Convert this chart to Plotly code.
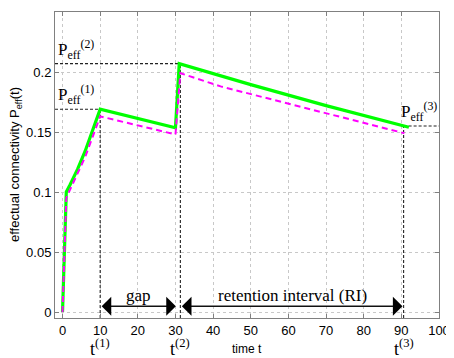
import plotly.graph_objects as go

# ---- data ----
green_t = [0, 1, 2, 4, 6, 8, 10, 30, 31, 50, 70, 92]
green_p = [0, 0.1, 0.106, 0.119, 0.134, 0.151, 0.169, 0.1535, 0.207, 0.1895, 0.172, 0.154]
magenta_t = [0, 1, 2, 4, 6, 8, 10, 30, 31.3, 42, 90.8]
magenta_p = [0, 0.095, 0.102, 0.115, 0.129, 0.146, 0.163, 0.148, 0.199, 0.188, 0.149]

event_t = [10, 31.3, 90.6]           # t(1), t(2), t(3)
peff = [0.169, 0.207, 0.155]         # Peff(1), Peff(2), Peff(3)
x_min, x_max = -2, 100
y_min, y_max = -0.005, 0.25
arrow_y = 0.0048
gap_span = [10.4, 30.1]
ri_span = [31.7, 90.3]
x_ticks = [0, 10, 20, 30, 40, 50, 60, 70, 80, 90, 100]
y_ticks = [0, 0.05, 0.1, 0.15, 0.2, 0.25]
y_tick_text = ["0", "0.05", "0.1", "0.15", "0.2", "0.25"]

SERIF = "Liberation Serif, Times New Roman, serif"
SANS = "Liberation Sans, Arial, sans-serif"

fig = go.Figure()

dash_style = dict(color="#222222", width=1.1, dash="3px,2px")
for t, p in zip(event_t, peff):
    fig.add_trace(go.Scatter(x=[t, t], y=[y_min, p], mode="lines", line=dash_style,
                             showlegend=False, hoverinfo="skip"))
fig.add_trace(go.Scatter(x=[x_min, event_t[0]], y=[peff[0], peff[0]], mode="lines",
                         line=dash_style, showlegend=False, hoverinfo="skip"))
fig.add_trace(go.Scatter(x=[x_min, event_t[1]], y=[peff[1], peff[1]], mode="lines",
                         line=dash_style, showlegend=False, hoverinfo="skip"))
fig.add_trace(go.Scatter(x=[event_t[2], x_max], y=[peff[2], peff[2]], mode="lines",
                         line=dash_style, showlegend=False, hoverinfo="skip"))

fig.add_trace(go.Scatter(x=green_t, y=green_p, mode="lines",
                         line=dict(color="#00ff00", width=3.2), showlegend=False))
fig.add_trace(go.Scatter(x=magenta_t, y=magenta_p, mode="lines",
                         line=dict(color="#ff00ff", width=2, dash="6px,4px"), showlegend=False))

annotations = []
for span in (gap_span, ri_span):
    for a, b in ((span[0], span[1]), (span[1], span[0])):
        annotations.append(dict(x=b, y=arrow_y, ax=a, ay=arrow_y, xref="x", yref="y",
                                axref="x", ayref="y", showarrow=True, arrowhead=1,
                                arrowsize=3.2, arrowwidth=1, arrowcolor="black", text=""))
annotations.append(dict(x=sum(gap_span) / 2, y=arrow_y, xref="x", yref="y", text="gap",
                        showarrow=False, yanchor="bottom", yshift=-1,
                        font=dict(family=SERIF, size=17, color="black")))
annotations.append(dict(x=sum(ri_span) / 2, y=arrow_y, xref="x", yref="y",
                        text="retention interval (RI)", showarrow=False, yanchor="bottom",
                        yshift=-1, font=dict(family=SERIF, size=17, color="black")))
for i, (xx, yy) in enumerate([(x_min, peff[0]), (x_min, peff[1]), (event_t[2] - 1.5, peff[2])]):
    annotations.append(dict(x=xx, y=yy, xref="x", yref="y",
                            text=f"P<sub>eff</sub><sup>({i + 1})</sup>", showarrow=False,
                            xanchor="left", yanchor="bottom", xshift=1, yshift=0,
                            font=dict(family=SERIF, size=17, color="black")))
for i, t in enumerate(event_t):
    annotations.append(dict(x=t, y=0, xref="x", yref="paper",
                            text=f"t<sup>({i + 1})</sup>", showarrow=False,
                            xanchor="center", yanchor="middle", yshift=-29,
                            font=dict(family=SERIF, size=18, color="black")))
annotations.append(dict(x=49, y=0, xref="x", yref="paper", text="time t", showarrow=False,
                        xanchor="center", yanchor="middle", yshift=-31,
                        font=dict(family=SANS, size=12, color="black")))
annotations.append(dict(x=0, y=0.5, xref="paper", yref="paper",
                        text="effectual connectivity P<sub>eff</sub>(t)", showarrow=False,
                        textangle=-90, xanchor="center", yanchor="middle", xshift=-40,
                        font=dict(family=SANS, size=13, color="black")))

axis_common = dict(showline=True, linecolor="#808080", linewidth=1, mirror="ticks",
                   ticks="inside", ticklen=4, tickcolor="#808080", showgrid=True,
                   gridcolor="#c8c8c8", griddash="dot", gridwidth=1, zeroline=False,
                   tickfont=dict(family=SANS, size=13, color="black"))
# page body adds an 8px offset; compensate so the plot area sits at (55..439, 12..318)
fig.update_layout(
    width=446, height=350,
    margin=dict(l=47, r=15, t=4, b=40),
    plot_bgcolor="white", paper_bgcolor="white",
    xaxis=dict(range=[x_min, x_max], tickvals=x_ticks, **axis_common),
    yaxis=dict(range=[y_min, y_max], tickvals=y_ticks, ticktext=y_tick_text, **axis_common),
    annotations=annotations,
)
fig.write_html("out.html")
